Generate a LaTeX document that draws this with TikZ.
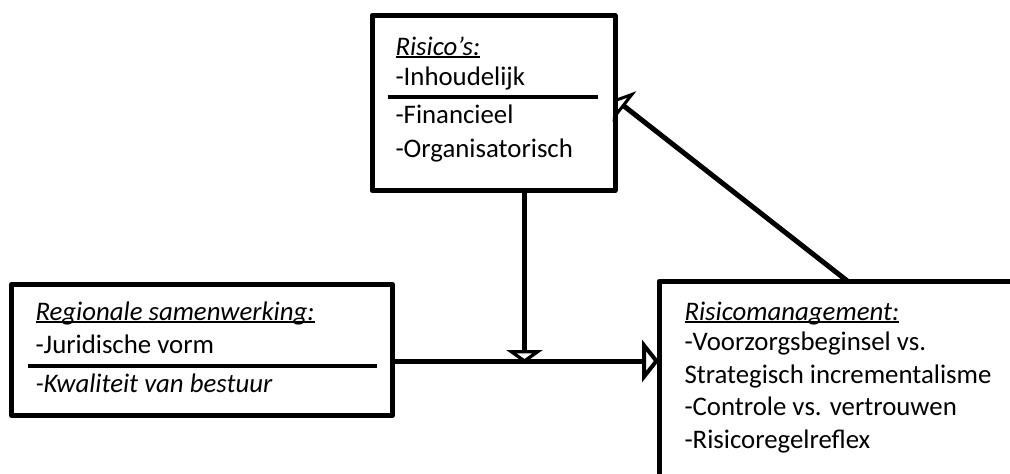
\documentclass[tikz,border=0pt]{standalone}
\usepackage{fontspec}
\setmainfont{Carlito}
\usetikzlibrary{arrows.meta}

\newsavebox{\lijnbox}
\newcommand{\onderlijn}[1]{\sbox{\lijnbox}{#1}\rlap{\rule[-2.5pt]{\wd\lijnbox}{1.3pt}}\usebox{\lijnbox}}

\tikzset{every picture/.style={line width=5pt}}

\begin{document}
\begin{tikzpicture}[x=1pt,y=1pt,yscale=-1,
  kader/.style={draw, rectangle, line width=5pt, line join=round, outer sep=0pt, inner sep=0pt},
  tekst/.style={anchor=base west, inner sep=0pt, font=\fontsize{26.8}{32}\selectfont},
  scheiding/.style={line width=4pt},
  pijl/.style={line width=5pt}]
\useasboundingbox (0,0) rectangle (1010,474);
\clip (0,0) rectangle (1010,474);

% Boxes
\node[kader, minimum width=243pt, minimum height=175pt] (risico) at (493.5,103) {};
\node[kader, minimum width=381pt, minimum height=131pt] (regio) at (202,350) {};
% open to the right and bottom
\node[kader, anchor=north west, minimum width=420pt, minimum height=260pt] (beheer) at (659,281.5) {};

% Separators
\draw[scheiding] (388,97) -- (598,97);
\draw[scheiding] (28,366) -- (377,366);

% Text Risico's
\node[tekst] (risicokop) at (393,55) {\onderlijn{\textit{Risico’s:}}};
\node[tekst] (inhoud) at (393,85) {-Inhoudelijk};
\node[tekst] (financieel) at (393,123) {-Financieel};
\node[tekst] (organisatie) at (393,157) {-Organisatorisch};

% Text Regionale samenwerking
\node[tekst] (regiokop) at (33,320) {\onderlijn{\textit{Regionale samenwerking:}}};
\node[tekst] (juridisch) at (33,353) {-Juridische vorm};
\node[tekst] (kwaliteit) at (33,392) {\textit{-Kwaliteit van bestuur}};

% Text Risicomanagement
\node[tekst] (beheerkop) at (682,320) {\onderlijn{\textit{Risicomanagement:}}};
\node[tekst] (voorzorg) at (682,350) {-Voorzorgsbeginsel vs.};
\node[tekst] (strategisch) at (682,383) {Strategisch incrementalisme};
\node[tekst] (controle) at (682,415) {-Controle vs. vertrouwen};
\node[tekst] (reflex) at (682,448) {-Risicoregelreflex};

% Connectors
\coordinate (kruis) at (524.5,361);
\draw[pijl, -{Triangle[open, length=17pt, width=42pt, line width=4pt]}] (kruis -| regio.east) -- (kruis -| beheer.west);
\draw[pijl, -{Triangle[open, length=13pt, width=36pt, line width=4pt]}] (kruis |- risico.south) -- ([yshift=2pt]kruis);
\draw[pijl, -{Triangle[open, length=12pt, width=38pt, line width=4pt]}] ([xshift=189pt]beheer.north west) -- ([yshift=-4pt]risico.east);

\end{tikzpicture}
\end{document}
